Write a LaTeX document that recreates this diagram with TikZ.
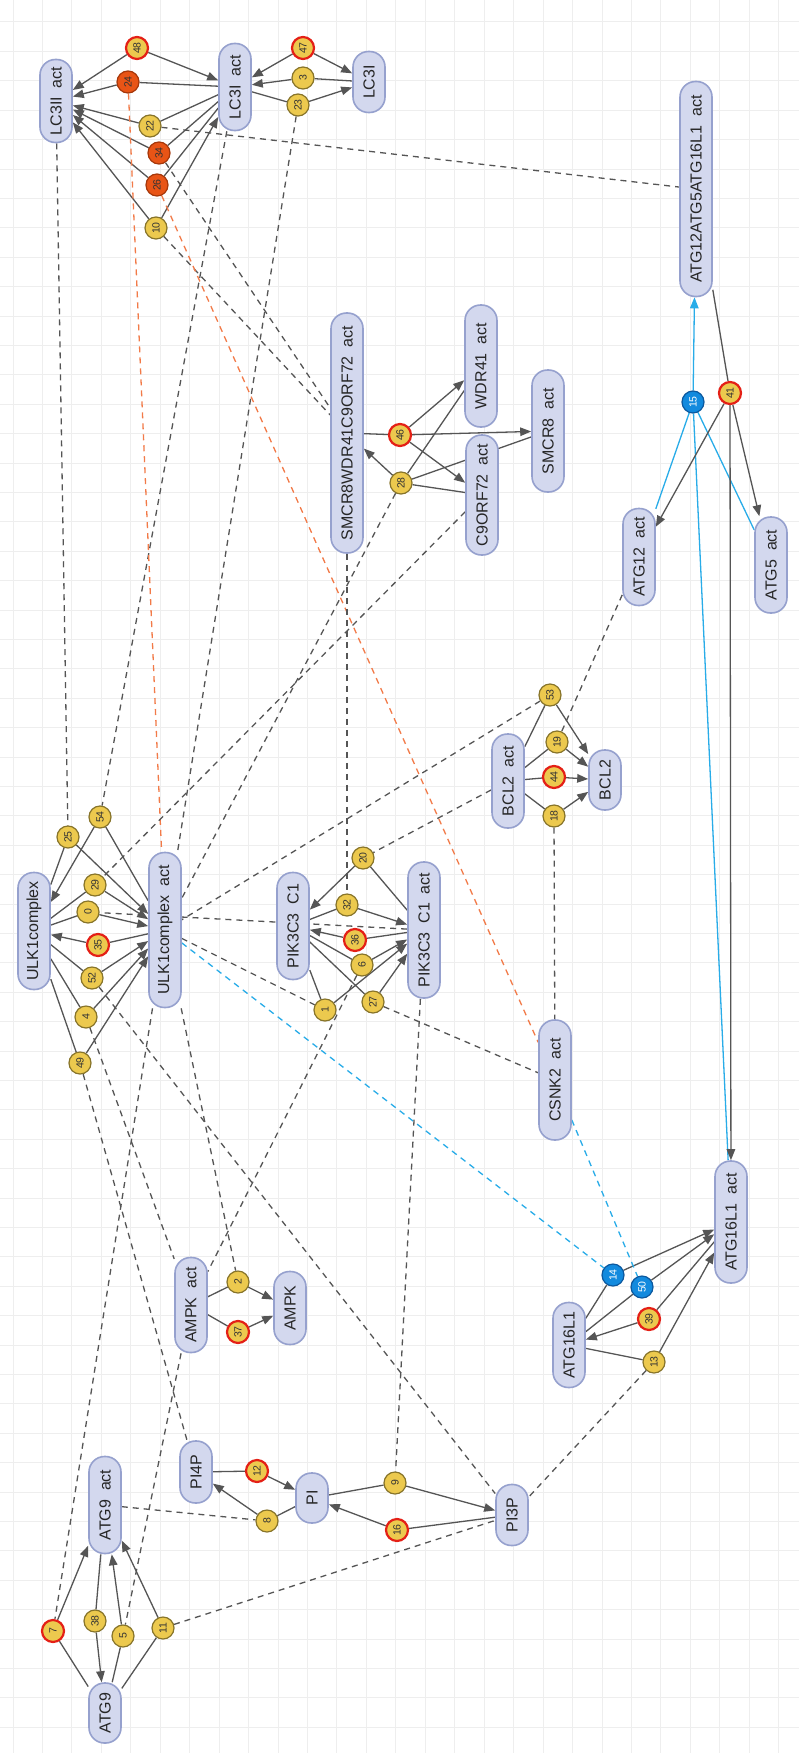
\documentclass[tikz,border=0pt]{standalone}
\usepackage{fontspec}
\setmainfont{Liberation Sans}
\usetikzlibrary{arrows.meta}
\pgfdeclarelayer{gridlayer}
\pgfdeclarelayer{edgelayer}
\pgfsetlayers{gridlayer,edgelayer,main}
\definecolor{pillfill}{RGB}{211,216,238}
\definecolor{pilldraw}{RGB}{150,161,206}
\definecolor{gridgray}{RGB}{238,238,238}
\definecolor{rxyellow}{RGB}{236,201,78}
\definecolor{rxolive}{RGB}{135,116,42}
\definecolor{rxred}{RGB}{228,32,22}
\definecolor{rxorange}{RGB}{232,84,22}
\definecolor{rxbrown}{RGB}{165,55,10}
\definecolor{rxblue}{RGB}{18,138,222}
\definecolor{rxnavy}{RGB}{12,88,158}
\definecolor{edgegray}{RGB}{85,85,85}
\definecolor{dashorange}{RGB}{242,122,72}
\definecolor{linkblue}{RGB}{40,172,232}
\tikzset{
  species/.style={rectangle, rounded corners=15.5, draw=pilldraw, fill=pillfill, line width=1.6,
    rotate=90, minimum height=32, inner sep=0, font=\fontsize{16}{18}\selectfont, text=black!85},
  rx/.style={circle, draw=rxolive, fill=rxyellow, line width=1.2, minimum size=22, inner sep=0,
    rotate=90, font=\fontsize{10.5}{11}\selectfont, text=black!80},
  rxinhib/.style={rx, draw=rxred, line width=2.2},
  rxfast/.style={rx, draw=rxbrown, fill=rxorange},
  rxassoc/.style={rx, draw=rxnavy, fill=rxblue, text=white},
  flow/.style={draw=edgegray, line width=1.3},
  flowto/.style={flow, -{Triangle[length=11,width=8.5]}},
  bind/.style={flow, draw=linkblue},
  bindto/.style={flowto, draw=linkblue},
  modif/.style={draw=edgegray, line width=1.3, dash pattern=on 6 off 5},
  modifred/.style={modif, draw=dashorange},
  modifblue/.style={modif, draw=linkblue},
  gridline/.style={draw=gridgray, line width=1}
}
\begin{document}
\begin{tikzpicture}[x=1pt,y=-1pt]
\useasboundingbox (0,0) rectangle (799,1753);

% Paper and grid
\begin{pgfonlayer}{gridlayer}
\fill[white] (0,0) rectangle (799,1753);
\foreach \gx in {0,...,26} \draw[gridline] (13+29.45*\gx,0) -- (13+29.45*\gx,1753);
\foreach \gy in {0,...,58} \draw[gridline] (0,22+29.4*\gy) -- (799,22+29.4*\gy);
\end{pgfonlayer}

% Marking species
\node[species, minimum width=83] (lc3iiact) at (56,101) {LC3II~~act};
\node[species, minimum width=87] (lc3iact) at (235,87) {LC3I~~act};
\node[species, minimum width=61] (lc3i) at (369,82) {LC3I};
\node[species, minimum width=215] (atgcplx) at (696,189) {ATG12ATG5ATG16L1~~act};
\node[species, minimum width=240] (smcr) at (347,433) {SMCR8WDR41C9ORF72~~act};
\node[species, minimum width=122] (wdr) at (481,366) {WDR41~~act};
\node[species, minimum width=122] (smcr8) at (548,431) {SMCR8~~act};
\node[species, minimum width=120] (c9) at (482,495) {C9ORF72~~act};
\node[species, minimum width=97] (atg12) at (639,557) {ATG12~~act};
\node[species, minimum width=96] (atg5) at (771,565) {ATG5~~act};
\node[species, minimum width=94] (bcl2act) at (508,781) {BCL2~~act};
\node[species, minimum width=60] (bcl2) at (605,780) {BCL2};
\node[species, minimum width=117] (ulk) at (34,931) {ULK1complex};
\node[species, minimum width=155] (ulkact) at (165,930) {ULK1complex~~act};
\node[species, minimum width=107] (pik) at (293,926) {PIK3C3~~C1};
\node[species, minimum width=136] (pikact) at (424,930) {PIK3C3~~C1~~act};
\node[species, minimum width=120] (csnk) at (555,1080) {CSNK2~~act};
\node[species, minimum width=95] (ampkact) at (191,1305) {AMPK~~act};
\node[species, minimum width=73] (ampk) at (290,1308) {AMPK};
\node[species, minimum width=122] (atg16act) at (731,1222) {ATG16L1~~act};
\node[species, minimum width=85] (atg16) at (569,1345) {ATG16L1};
\node[species, minimum width=62] (pi4p) at (196,1472) {PI4P};
\node[species, minimum width=50] (pi) at (312,1498) {PI};
\node[species, minimum width=61] (pi3p) at (512,1515) {PI3P};
\node[species, minimum width=97] (atg9act) at (105,1505) {ATG9~~act};
\node[species, minimum width=60] (atg9) at (105,1713) {ATG9};

% Marking reactions
\node[rxinhib] (r48) at (137,48) {48};
\node[rxfast] (r24) at (128,82) {24};
\node[rx] (r22) at (150,126) {22};
\node[rxfast] (r34) at (159,153) {34};
\node[rxfast] (r26) at (157,185) {26};
\node[rx] (r10) at (156,228) {10};
\node[rxinhib] (r47) at (303,48) {47};
\node[rx] (r3) at (303,78) {3};
\node[rx] (r23) at (298,105) {23};
\node[rxinhib] (r46) at (400,435) {46};
\node[rx] (r28) at (401,483) {28};
\node[rxassoc] (r15) at (693,402) {15};
\node[rxinhib] (r41) at (730,393) {41};
\node[rx] (r53) at (550,695) {53};
\node[rx] (r19) at (557,742) {19};
\node[rxinhib] (r44) at (554,777) {44};
\node[rx] (r18) at (554,816) {18};
\node[rx] (r25) at (68,837) {25};
\node[rx] (r54) at (100,817) {54};
\node[rx] (r29) at (95,885) {29};
\node[rx] (r0) at (88,912) {0};
\node[rxinhib] (r35) at (98,945) {35};
\node[rx] (r52) at (92,978) {52};
\node[rx] (r4) at (86,1017) {4};
\node[rx] (r49) at (80,1063) {49};
\node[rx] (r20) at (363,858) {20};
\node[rx] (r32) at (347,905) {32};
\node[rxinhib] (r36) at (355,940) {36};
\node[rx] (r6) at (362,965) {6};
\node[rx] (r1) at (325,1010) {1};
\node[rx] (r27) at (373,1002) {27};
\node[rx] (r2) at (238,1282) {2};
\node[rxinhib] (r37) at (238,1332) {37};
\node[rxassoc] (r14) at (613,1275) {14};
\node[rxassoc] (r50) at (642,1287) {50};
\node[rxinhib] (r39) at (649,1319) {39};
\node[rx] (r13) at (654,1362) {13};
\node[rxinhib] (r12) at (257,1471) {12};
\node[rx] (r8) at (267,1521) {8};
\node[rx] (r9) at (395,1483) {9};
\node[rxinhib] (r16) at (397,1530) {16};
\node[rxinhib] (r7) at (53,1631) {7};
\node[rx] (r38) at (95,1621) {38};
\node[rx] (r5) at (123,1636) {5};
\node[rx] (r11) at (163,1628) {11};

\begin{pgfonlayer}{edgelayer}
% Drawing LC3 reactions
\draw[flowto] (r48) -- (lc3iiact); \draw[flowto] (r48) -- (lc3iact);
\draw[flow] (lc3iact) -- (r24); \draw[flowto] (r24) -- (lc3iiact);
\draw[flow] (lc3iact) -- (r22); \draw[flowto] (r22) -- (lc3iiact);
\draw[flow] (lc3iact) -- (r34); \draw[flowto] (r34) -- (lc3iiact);
\draw[flow] (lc3iact) -- (r26); \draw[flowto] (r26) -- (lc3iiact);
\draw[flowto] (r10) -- (lc3iiact); \draw[flowto] (r10) -- (lc3iact);
\draw[flowto] (r47) -- (lc3iact); \draw[flowto] (r47) -- (lc3i);
\draw[flow] (lc3i) -- (r3); \draw[flowto] (r3) -- (lc3iact);
\draw[flow] (lc3iact) -- (r23); \draw[flowto] (r23) -- (lc3i);

% Drawing SMCR8 complex reactions
\draw[flow] (smcr) -- (r46);
\draw[flowto] (r46) -- (wdr); \draw[flowto] (r46) -- (smcr8); \draw[flowto] (r46) -- (c9);
\draw[flowto] (r28) -- (smcr);
\draw[flow] (r28) -- (wdr); \draw[flow] (r28) -- (smcr8); \draw[flow] (r28) -- (c9);

% Drawing ATG12 ATG5 ATG16L1 reactions
\draw[bindto] (r15) -- (atgcplx);
\draw[bind] (atg12) -- (r15); \draw[bind] (atg5) -- (r15); \draw[bind] (atg16act) -- (r15);
\draw[flow] (atgcplx) -- (r41);
\draw[flowto] (r41) -- (atg12); \draw[flowto] (r41) -- (atg5); \draw[flowto] (r41) -- (atg16act);

% Drawing BCL2 reactions
\draw[flow] (bcl2act) -- (r53); \draw[flowto] (r53) -- (bcl2);
\draw[flow] (bcl2act) -- (r19); \draw[flowto] (r19) -- (bcl2);
\draw[flow] (bcl2act) -- (r44); \draw[flowto] (r44) -- (bcl2);
\draw[flow] (bcl2act) -- (r18); \draw[flowto] (r18) -- (bcl2);

% Drawing ULK1 reactions
\draw[flow] (ulk) -- (r25); \draw[flowto] (r25) -- (ulkact);
\draw[flow] (ulkact) -- (r54); \draw[flowto] (r54) -- (ulk);
\draw[flow] (ulk) -- (r29); \draw[flowto] (r29) -- (ulkact);
\draw[flow] (ulk) -- (r0); \draw[flowto] (r0) -- (ulkact);
\draw[flow] (ulkact) -- (r35); \draw[flowto] (r35) -- (ulk);
\draw[flow] (ulk) -- (r52); \draw[flowto] (r52) -- (ulkact);
\draw[flow] (ulk) -- (r4); \draw[flowto] (r4) -- (ulkact);
\draw[flow] (ulk) -- (r49); \draw[flowto] (r49) -- (ulkact);

% Drawing PIK3C3 reactions
\draw[flow] (pikact) -- (r20); \draw[flowto] (r20) -- (pik);
\draw[flow] (pik) -- (r32); \draw[flowto] (r32) -- (pikact);
\draw[flow] (pikact) -- (r36); \draw[flowto] (r36) -- (pik);
\draw[flow] (pik) -- (r6); \draw[flowto] (r6) -- (pikact);
\draw[flow] (pik) -- (r1); \draw[flowto] (r1) -- (pikact);
\draw[flow] (pik) -- (r27); \draw[flowto] (r27) -- (pikact);

% Drawing AMPK reactions
\draw[flow] (ampkact) -- (r2); \draw[flowto] (r2) -- (ampk);
\draw[flow] (ampkact) -- (r37); \draw[flowto] (r37) -- (ampk);

% Drawing ATG16L1 reactions
\draw[flow] (atg16) -- (r14); \draw[flowto] (r14) -- (atg16act);
\draw[flow] (atg16) -- (r50); \draw[flowto] (r50) -- (atg16act);
\draw[flow] (atg16act) -- (r39); \draw[flowto] (r39) -- (atg16);
\draw[flow] (atg16) -- (r13); \draw[flowto] (r13) -- (atg16act);

% Drawing phosphoinositide reactions
\draw[flow] (pi4p) -- (r12); \draw[flowto] (r12) -- (pi);
\draw[flow] (pi) -- (r8); \draw[flowto] (r8) -- (pi4p);
\draw[flow] (pi) -- (r9); \draw[flowto] (r9) -- (pi3p);
\draw[flow] (pi3p) -- (r16); \draw[flowto] (r16) -- (pi);

% Drawing ATG9 reactions
\draw[flow] (atg9) -- (r7); \draw[flowto] (r7) -- (atg9act);
\draw[flow] (atg9act) -- (r38); \draw[flowto] (r38) -- (atg9);
\draw[flow] (atg9) -- (r5); \draw[flowto] (r5) -- (atg9act);
\draw[flow] (atg9) -- (r11); \draw[flowto] (r11) -- (atg9act);

% Drawing modifiers
\draw[modif] (lc3iiact) -- (r25);
\draw[modif] (lc3iact) -- (r54);
\draw[modifred] (r24) -- (ulkact);
\draw[modif] (r23) -- (ulkact);
\draw[modif] (r22) -- (atgcplx);
\draw[modif] (r34) -- (smcr);
\draw[modif] (r10) -- (smcr);
\draw[modifred] (r26) -- (csnk);
\draw[modif] (c9) -- (r29);
\draw[modif] (r28) -- (ulkact);
\draw[modif] (r53) -- (ulkact);
\draw[modif] (bcl2act) -- (r20);
\draw[modif] (atg12) -- (r19);
\draw[modif] (r18) -- (csnk);
\draw[modif] (smcr) -- (r32);
\draw[modif] (pikact) -- (r0);
\draw[modif] (ulkact) -- (r1);
\draw[modifblue] (ulkact) -- (r14);
\draw[modifblue] (csnk) -- (r50);
\draw[modif] (ulkact) -- (r7);
\draw[modif] (ulkact) -- (r2);
\draw[modif] (r4) -- (ampkact);
\draw[modif] (r6) -- (ampkact);
\draw[modif] (r49) -- (pi4p);
\draw[modif] (r52) -- (pi3p);
\draw[modif] (ampkact) -- (r5);
\draw[modif] (atg9act) -- (r8);
\draw[modif] (r11) -- (pi3p);
\draw[modif] (r13) -- (pi3p);
\draw[modif] (pikact) -- (r9);
\draw[modif] (r27) -- (csnk);
\end{pgfonlayer}
\end{tikzpicture}
\end{document}
